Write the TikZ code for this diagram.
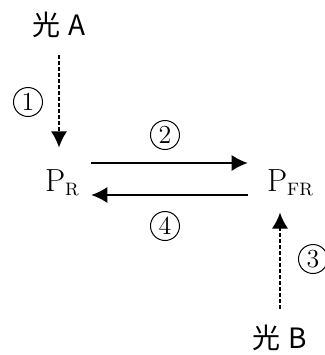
\documentclass[tikz,border=0pt]{standalone}
\usepackage{fontspec}
\newfontfamily\cjk{Noto Sans CJK SC}
\usetikzlibrary{arrows.meta}
\tikzstyle{light} = [font=\cjk\fontsize{14}{16}\selectfont, inner sep=0pt]
\tikzstyle{pigment} = [font=\fontsize{16}{18}\selectfont, inner sep=0pt]
\tikzstyle{stepnum} = [circle, draw, line width=0.5pt, minimum size=14.5pt, inner sep=0pt, font=\fontsize{13}{14}\selectfont]
\tikzstyle{arrow} = [line width=0.8pt,-{Latex[length=8pt,width=8pt]}]
\tikzstyle{lightarrow} = [arrow, dash pattern=on 2pt off 1pt]
\newcommand{\sub}[1]{\raisebox{-2pt}{\fontsize{9}{10}\selectfont #1}}

\begin{document}
\begin{tikzpicture}[x=0.5pt,y=-0.5pt]
  \useasboundingbox (0,0) rectangle (325,355);
  \node (lightA)[light] at (59,25) {光\hspace{4pt}A};
  \node (PR)[pigment] at (62,183) {P\sub{R}};
  \node (PFR)[pigment] at (290,183) {P\sub{FR}};
  \node (lightB)[light] at (280,338) {光\hspace{4pt}B};
  \node (n1)[stepnum] at (28,102) {1};
  \node (n2)[stepnum] at (165,135) {2};
  \node (n3)[stepnum] at (313,259) {3};
  \node (n4)[stepnum] at (165,226) {4};
  \draw [lightarrow, shorten <=8.5pt, shorten >=11pt] (lightA.south) -- (lightA.south |- PR.north);
  \draw [arrow] ([shift={(6pt,10pt)}]PR.east) -- ([shift={(-9.5pt,10pt)}]PFR.west);
  \draw [arrow] ([shift={(-9.5pt,-6pt)}]PFR.west) -- ([shift={(6pt,-6pt)}]PR.east);
  \draw [lightarrow, shorten <=8pt, shorten >=8pt] (lightB.north) -- (lightB.north |- PFR.south);
\end{tikzpicture}
\end{document}
